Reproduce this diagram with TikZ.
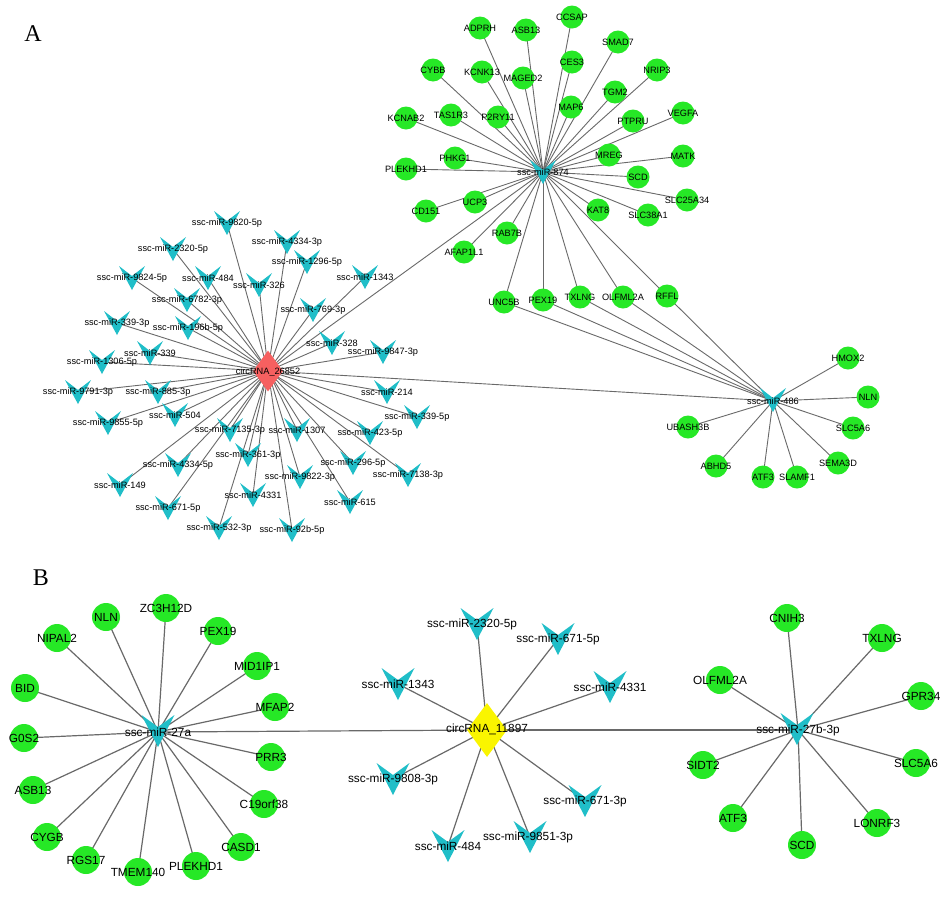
\documentclass[tikz,border=0pt]{standalone}
\usepackage{fontspec}
\setmainfont{Liberation Sans}
\newfontfamily\serifA{Liberation Serif}
\usetikzlibrary{backgrounds,shapes.geometric}
\definecolor{genecol}{RGB}{38,232,38}
\definecolor{mircol}{RGB}{32,190,200}
\definecolor{redhub}{RGB}{246,96,96}
\definecolor{yelhub}{RGB}{250,245,0}
\definecolor{edgecol}{RGB}{105,105,105}
\tikzset{
 geneA/.style={circle, fill=genecol, minimum size=23pt, inner sep=0pt},
 geneB/.style={circle, fill=genecol, minimum size=28pt, inner sep=0pt},
 txtA/.style={font=\fontsize{9.2}{10}\selectfont, inner sep=0pt, text=black},
 txtB/.style={font=\fontsize{11.8}{13}\selectfont, inner sep=0pt, text=black},
 edgeA/.style={draw=edgecol, line width=0.9pt},
 edgeB/.style={draw=edgecol, line width=1.2pt},
 panel/.style={font=\serifA\fontsize{24}{26}\selectfont, inner sep=0pt},
 hubshape/.style={diamond, inner sep=0pt},
 veeA/.pic={\fill[mircol] (-13,-12) -- (0,-2) -- (13,-12) -- (0,12) -- cycle;},
 veeB/.pic={\fill[mircol] (-16.5,-16) -- (0,-4) -- (16.5,-16) -- (0,16) -- cycle;},
}
\def\ListEight{aADPRH/480/28/ADPRH, aASB13/526/30/ASB13, aCCSAP/572/17/CCSAP,
 aSMAD7/618/42/SMAD7, aCYBB/433/70/CYBB, aKCNK13/482/72/KCNK13,
 aMAGED2/523/78/MAGED2, aCES3/572/62/CES3, aNRIP3/657/70/NRIP3,
 aTGM2/615/92/TGM2, aKCNAB2/406/118/KCNAB2, aTAS1R3/451/115/TAS1R3,
 aP2RY11/498/117/P2RY11, aMAP6/571/107/MAP6, aPTPRU/633/121/PTPRU,
 aVEGFA/683/113/VEGFA, aMREG/609/155/MREG, aMATK/683/156/MATK,
 aPHKG1/455/158/PHKG1, aPLEKHD1/406/169/PLEKHD1, aSCD/638/177/SCD,
 aSLC25A34/687/200/SLC25A34, aCD151/426/211/CD151, aUCP3/475/202/UCP3,
 aKAT8/598/210/KAT8, aSLC38A1/648/215/SLC38A1, aRAB7B/507/233/RAB7B,
 aAFAP1L1/464/252/AFAP1L1}
\def\ListShared{aUNC5B/504/302/UNC5B, aPEX19/543/300/PEX19, aTXLNG/580/297/TXLNG,
 aOLFML2A/623/297/OLFML2A, aRFFL/667/296/RFFL}
\def\ListFour{aHMOX2/848/358/HMOX2, aNLN/868/397/NLN, aUBASH3B/688/427/UBASH3B,
 aSLC5A6/853/428/SLC5A6, aABHD5/716/466/ABHD5, aSEMA3D/838/463/SEMA3D,
 aATF3/763/477/ATF3, aSLAMF1/797/477/SLAMF1}
\def\ListCircA{m9820/227/223/ssc-miR-9820-5p, m2320/173/249/ssc-miR-2320-5p,
 m4334t/287/242/ssc-miR-4334-3p, m1296/307/262/ssc-miR-1296-5p,
 m9824/132/278/ssc-miR-9824-5p, m484/208/278/ssc-miR-484,
 m326/259/285/ssc-miR-326, m1343/365/277/ssc-miR-1343,
 m6782/187/300/ssc-miR-6782-3p, m769/313/310/ssc-miR-769-3p,
 m339t/117/323/ssc-miR-339-3p, m196b/188/328/ssc-miR-196b-5p,
 m328/332/343/ssc-miR-328, m9847/383/352/ssc-miR-9847-3p,
 m339/150/353/ssc-miR-339, m1306/102/362/ssc-miR-1306-5p,
 m9791/78/392/ssc-miR-9791-3p, m885/158/392/ssc-miR-885-3p,
 m214/387/392/ssc-miR-214, m9855/108/423/ssc-miR-9855-5p,
 m504/175/415/ssc-miR-504, m339f/417/417/ssc-miR-339-5p,
 m7135/230/430/ssc-miR-7135-3p, m1307/297/430/ssc-miR-1307,
 m423/370/433/ssc-miR-423-5p, m361/248/455/ssc-miR-361-3p,
 m4334f/178/465/ssc-miR-4334-5p, m296/353/463/ssc-miR-296-5p,
 m7138/408/475/ssc-miR-7138-3p, m149/120/485/ssc-miR-149,
 m9822/300/477/ssc-miR-9822-3p, m4331/253/495/ssc-miR-4331,
 m615/350/502/ssc-miR-615, m671/168/508/ssc-miR-671-5p,
 m532/219/528/ssc-miR-532-3p, m92b/292/530/ssc-miR-92b-5p}
\def\ListTwoA{bZC3H12D/166/608/ZC3H12D, bNLN/106/617/NLN, bPEX19/218/631/PEX19,
 bNIPAL2/57/638/NIPAL2, bMID1IP1/257/666/MID1IP1, bBID/25/688/BID,
 bMFAP2/275/707/MFAP2, bG0S2/24/738/G0S2, bPRR3/271/757/PRR3,
 bASB13/33/790/ASB13, bC19orf38/264/804/C19orf38, bCYGB/47/837/CYGB,
 bCASD1/241/847/CASD1, bRGS17/86/860/RGS17, bTMEM140/138/872/TMEM140,
 bPLEKHD1/196/866/PLEKHD1}
\def\ListTwoB{bCNIH3/787/618/CNIH3, bTXLNG/882/638/TXLNG, bOLFML2A/720/680/OLFML2A,
 bGPR34/921/696/GPR34, bSIDT2/703/765/SIDT2, bSLC5A6/916/763/SLC5A6,
 bATF3/733/818/ATF3, bLONRF3/877/823/LONRF3, bSCD/802/845/SCD}
\def\ListCircB{b2320/477/624/472/ssc-miR-2320-5p, b671f/558/639/558/ssc-miR-671-5p,
 b1343/398/684/398/ssc-miR-1343, b4331/610/687/610/ssc-miR-4331,
 b9808/393/779/393/ssc-miR-9808-3p, b671t/585/801/585/ssc-miR-671-3p,
 b9851/530/837/528/ssc-miR-9851-3p, b484/448/846/448/ssc-miR-484}
\begin{document}
\begin{tikzpicture}[x=1pt,y=-1pt]
\useasboundingbox (0,0) rectangle (945,900);
% panel letters
\node[panel] (pA) at (33,34) {A};
\node[panel] (pB) at (41,578) {B};
% gene circles
\foreach \n/\x/\y/\lab in \ListEight {\node[geneA] (\n) at (\x,\y) {};}
\foreach \n/\x/\y/\lab in \ListShared {\node[geneA] (\n) at (\x,\y) {};}
\foreach \n/\x/\y/\lab in \ListFour {\node[geneA] (\n) at (\x,\y) {};}
\foreach \n/\x/\y/\lab in \ListTwoA {\node[geneB] (\n) at (\x,\y) {};}
\foreach \n/\x/\y/\lab in \ListTwoB {\node[geneB] (\n) at (\x,\y) {};}
% miRNA shapes
\foreach \n/\x/\y/\lab in \ListCircA {\pic at (\x,\y) {veeA};}
\pic at (543,172) {veeA};
\pic at (773,400) {veeA};
\foreach \n/\x/\y/\lx/\lab in \ListCircB {\pic at (\x,\y) {veeB};}
\pic at (158,731) {veeB};
\pic at (797,729) {veeB};
% hubs
\node[hubshape, fill=redhub, minimum width=30pt, minimum height=41pt] (c26852) at (268,371) {};
\node[hubshape, fill=yelhub, minimum width=40pt, minimum height=54pt] (c11897) at (487,730) {};
% labels
\foreach \n/\x/\y/\lab in \ListEight {\node[txtA] (\n-t) at (\x,\y) {\lab};}
\foreach \n/\x/\y/\lab in \ListShared {\node[txtA] (\n-t) at (\x,\y) {\lab};}
\foreach \n/\x/\y/\lab in \ListFour {\node[txtA] (\n-t) at (\x,\y) {\lab};}
\foreach \n/\x/\y/\lab in \ListTwoA {\node[txtB] (\n-t) at (\x,\y) {\lab};}
\foreach \n/\x/\y/\lab in \ListTwoB {\node[txtB] (\n-t) at (\x,\y) {\lab};}
\foreach \n/\x/\y/\lab in \ListCircA {\node[txtA] (\n) at (\x,\y) {\lab};}
\foreach \n/\x/\y/\lx/\lab in \ListCircB {\coordinate (\n) at (\x,\y); \node[txtB] (\n-t) at (\lx,\y) {\lab};}
\node[txtA] (m874) at (543,172) {ssc-miR-874};
\node[txtA] (m486) at (773,401) {ssc-miR-486};
\node[txtA] (c26852-t) at (268,372) {circRNA\_26852};
\node[txtB] (c11897-t) at (487,729) {circRNA\_11897};
\node[txtB] (m27a) at (158,732) {ssc-miR-27a};
\node[txtB] (m27b) at (798,730) {ssc-miR-27b-3p};
% edges
\begin{pgfonlayer}{background}
\fill[white] (0,0) rectangle (945,900);
\foreach \n/\x/\y/\lab in \ListEight {\draw[edgeA] (m874.center) -- (\n.center);}
\foreach \n/\x/\y/\lab in \ListShared {\draw[edgeA] (m874.center) -- (\n.center);
  \draw[edgeA] (m486.center) -- (\n.center);}
\foreach \n/\x/\y/\lab in \ListFour {\draw[edgeA] (m486.center) -- (\n.center);}
\foreach \n/\x/\y/\lab in \ListCircA {\draw[edgeA] (c26852.center) -- (\n.center);}
\draw[edgeA] (c26852.center) -- (m874.center);
\draw[edgeA] (c26852.center) -- (m486.center);
\foreach \n/\x/\y/\lab in \ListTwoA {\draw[edgeB] (m27a.center) -- (\n.center);}
\foreach \n/\x/\y/\lab in \ListTwoB {\draw[edgeB] (m27b.center) -- (\n.center);}
\foreach \n/\x/\y/\lx/\lab in \ListCircB {\draw[edgeB] (c11897.center) -- (\n);}
\draw[edgeB] (m27a.center) -- (c11897.center);
\draw[edgeB] (c11897.center) -- (m27b.center);
\end{pgfonlayer}
\end{tikzpicture}
\end{document}
